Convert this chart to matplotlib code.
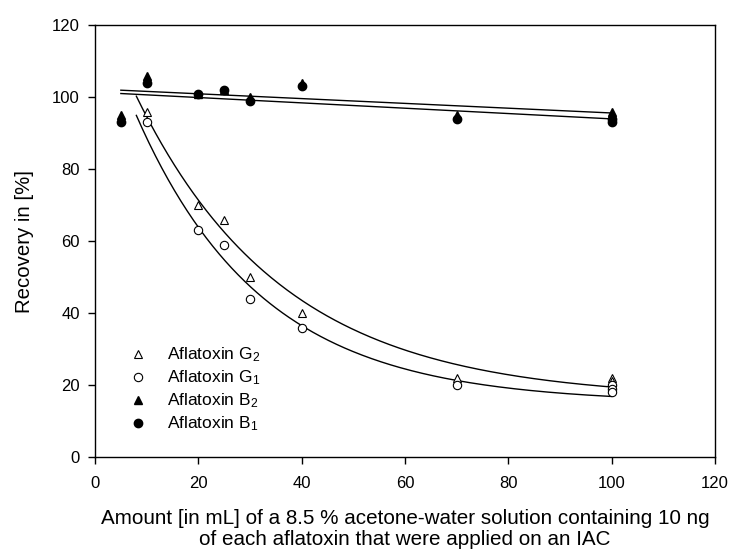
import numpy as np
import matplotlib
matplotlib.use("Agg")
import matplotlib.pyplot as plt

plt.rcParams['font.family'] = ['Liberation Sans', 'DejaVu Sans']

# recovery (%) vs. volume of acetone-water applied (mL)
vol_g2 = [10, 20, 25, 30, 40, 70, 100, 100]
g2 = [96, 70, 66, 50, 40, 22, 22, 21]
vol_g1 = [10, 20, 25, 30, 40, 70, 100, 100, 100]
g1 = [93, 63, 59, 44, 36, 20, 20, 19, 18]

vol_b = [5, 10, 20, 25, 30, 40, 70, 100, 100]
b2 = [95, 106, 101, 102, 100, 104, 95, 96, 95]
b1 = [93, 104, 101, 102, 99, 103, 94, 93, 94]

# exponential decay fits y = y0 + a*exp(-k*x): [y0, a, k]
g2_fit = [16.1, 111.4, 0.035]
g1_fit = [15.0, 111.0, 0.041]
fit_range = [8, 100]

fig = plt.figure(figsize=(7.31, 5.5), dpi=100)
ax = fig.add_axes([0.130, 0.169, 0.848, 0.785])

# linear regressions for B1 / B2
xl = np.linspace(min(vol_b), max(vol_b), 50)
for y in (b2, b1):
    p = np.polyfit(vol_b, y, 1)
    ax.plot(xl, np.polyval(p, xl), color='black', lw=1.0, zorder=2)

xc = np.linspace(fit_range[0], fit_range[1], 300)
for y0, a, k in (g2_fit, g1_fit):
    ax.plot(xc, y0 + a * np.exp(-k * xc), color='black', lw=1.0, zorder=2)

ms = 6
ax.plot(vol_g2, g2, ls='none', marker='^', ms=ms, mfc='white', mec='black', mew=0.8,
        label='Aflatoxin G$\\mathregular{_2}$', zorder=3)
ax.plot(vol_g1, g1, ls='none', marker='o', ms=ms, mfc='white', mec='black', mew=0.8,
        label='Aflatoxin G$\\mathregular{_1}$', zorder=3)
ax.plot(vol_b, b2, ls='none', marker='^', ms=ms, color='black',
        label='Aflatoxin B$\\mathregular{_2}$', zorder=4)
ax.plot(vol_b, b1, ls='none', marker='o', ms=ms, color='black',
        label='Aflatoxin B$\\mathregular{_1}$', zorder=4)

ax.set_xlim(0, 120)
ax.set_ylim(0, 120)
ax.set_xticks(range(0, 121, 20))
ax.set_yticks(range(0, 121, 20))
ax.tick_params(direction='out', length=5, width=1, labelsize=12, pad=6)
ax.tick_params(axis='x', pad=9)
for s in ax.spines.values():
    s.set_linewidth(1)

ax.set_ylabel('Recovery in [%]', fontsize=14.7)
ax.yaxis.set_label_coords(-0.098, 0.5)
ax.set_xlabel('Amount [in mL] of a 8.5 % acetone-water solution containing 10 ng\n'
              'of each aflatoxin that were applied on an IAC', fontsize=14.85, linespacing=1.15)
ax.xaxis.set_label_coords(0.5, -0.12)

ax.legend(loc='upper left', bbox_to_anchor=(0.055, 0.258), frameon=False, fontsize=12.5,
          handlelength=1.0, handletextpad=1.2, labelspacing=0.25, borderpad=0,
          borderaxespad=0)

fig.savefig('out.png', dpi=100)
